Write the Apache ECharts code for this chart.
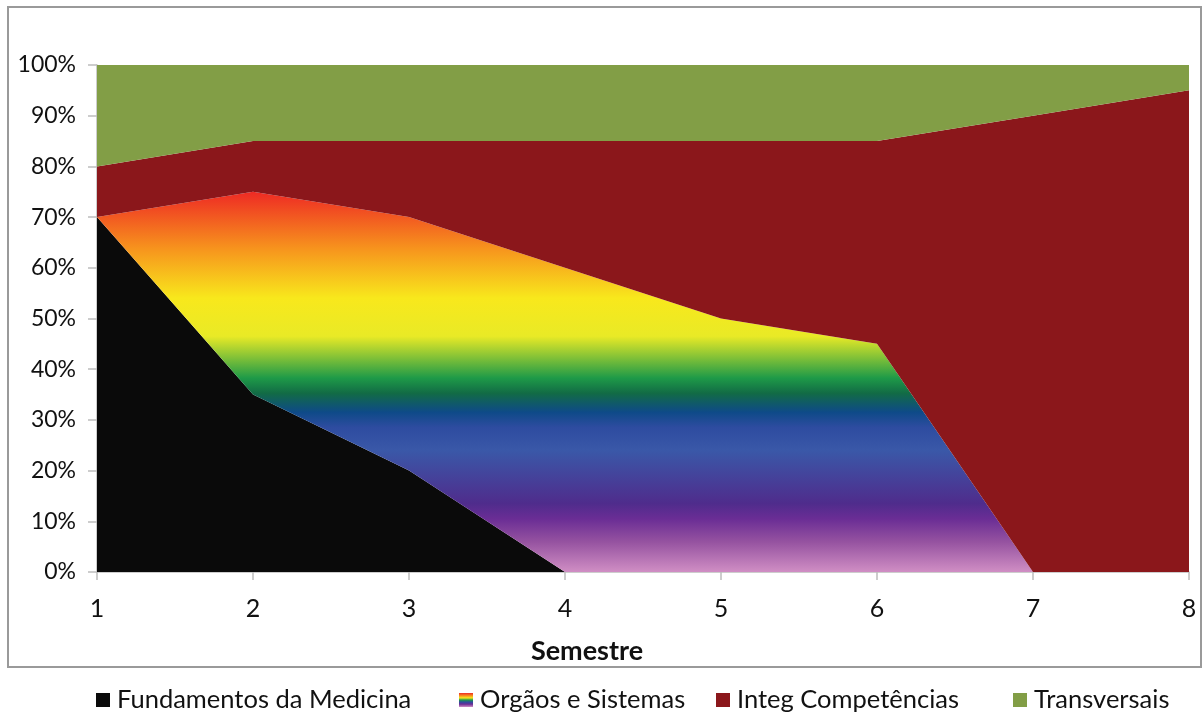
<!DOCTYPE html>
<html>
<head>
<meta charset="utf-8">
<script src="https://cdn.jsdelivr.net/npm/echarts@6/dist/echarts.min.js"></script>
<style>html,body{margin:0;padding:0;background:#fff}#c{width:1202px;height:715px}</style>
</head>
<body>
<div id="c"></div>
<script>
var categories = ['1','2','3','4','5','6','7','8'];
var fundamentos = [70, 35, 20, 0, 0, 0, 0, 0];
var orgaos = [0, 40, 50, 60, 50, 45, 0, 0];
var integ = [10, 10, 15, 25, 35, 40, 90, 95];
var transversais = [20, 15, 15, 15, 15, 15, 10, 5];
var seriesNames = ['Fundamentos da Medicina', 'Orgãos e Sistemas', 'Integ Competências', 'Transversais'];
var yTicks = [0,10,20,30,40,50,60,70,80,90,100];

var FONT = 'Lato';
var rainbow = new echarts.graphic.LinearGradient(0, 0, 0, 1, [
  {offset: 0.00, color: '#EE2A24'},
  {offset: 0.15, color: '#F7941D'},
  {offset: 0.28, color: '#F8E81C'},
  {offset: 0.38, color: '#E9EA26'},
  {offset: 0.49, color: '#1E9A48'},
  {offset: 0.53, color: '#126B45'},
  {offset: 0.58, color: '#0E4A88'},
  {offset: 0.62, color: '#2E4CA0'},
  {offset: 0.68, color: '#3A58A8'},
  {offset: 0.82, color: '#4F2C8C'},
  {offset: 0.86, color: '#6A2D95'},
  {offset: 0.92, color: '#9552A0'},
  {offset: 1.00, color: '#D08EC4'}
]);
var legendRainbow = new echarts.graphic.LinearGradient(0, 0, 0, 1, [
  {offset: 0.0, color: '#EE2A24'},
  {offset: 0.2, color: '#F7941D'},
  {offset: 0.35, color: '#F8E81C'},
  {offset: 0.5, color: '#1E9A48'},
  {offset: 0.65, color: '#2E4CA0'},
  {offset: 0.8, color: '#6A2D95'},
  {offset: 1.0, color: '#D08EC4'}
]);
var colors = ['#0A0A0A', rainbow, '#8B171B', '#829E46'];
var datas = [fundamentos, orgaos, integ, transversais];

var series = datas.map(function(d, i){
  return {
    name: seriesNames[i],
    type: 'line',
    stack: 'total',
    data: d,
    showSymbol: false,
    symbol: 'none',
    lineStyle: {width: 0},
    areaStyle: {color: colors[i], opacity: 1},
    itemStyle: {color: i === 1 ? legendRainbow : colors[i]},
    silent: true,
    animation: false
  };
});

var legendLefts = [96, 459, 716, 1013];
var legends = seriesNames.map(function(n, i){
  return {
    data: [n],
    left: legendLefts[i],
    top: 687,
    itemWidth: 14,
    itemHeight: 14,
    icon: 'rect',
    padding: 0,
    selectedMode: false,
    textStyle: {fontFamily: FONT, fontSize: 25.5, color: '#111', padding: [0,0,0,2]}
  };
});

var chart = echarts.init(document.getElementById('c'));
chart.setOption({
  animation: false,
  graphic: [{
    type: 'rect',
    shape: {x: 8, y: 7, width: 1193, height: 660},
    style: {fill: 'none', stroke: '#9A9A9A', lineWidth: 2},
    silent: true
  }],
  grid: {left: 97, right: 13, top: 65, bottom: 143},
  legend: legends,
  xAxis: {
    type: 'category',
    data: categories,
    boundaryGap: false,
    name: 'Semestre',
    nameLocation: 'middle',
    nameGap: 66,
    nameTextStyle: {fontFamily: FONT, fontSize: 27, fontWeight: 'bold', color: '#111', padding: [0, 112, 0, 0]},
    axisLine: {lineStyle: {color: '#BDBDBD', width: 1.5}},
    axisTick: {show: true, alignWithLabel: true, length: 8, lineStyle: {color: '#BDBDBD', width: 1.5}},
    axisLabel: {fontFamily: FONT, fontSize: 25, color: '#111', margin: 24}
  },
  yAxis: {
    type: 'value',
    min: 0,
    max: 100,
    interval: 10,
    axisLine: {show: true, lineStyle: {color: '#BDBDBD', width: 1.5}},
    axisTick: {show: true, length: 9, lineStyle: {color: '#BDBDBD', width: 1.5}},
    splitLine: {show: false},
    axisLabel: {fontFamily: FONT, fontSize: 23, color: '#111', margin: 21,
      formatter: function(v){ return yTicks.indexOf(v) >= 0 ? v + '%' : ''; }}
  },
  series: series
});
</script>
</body>
</html>
